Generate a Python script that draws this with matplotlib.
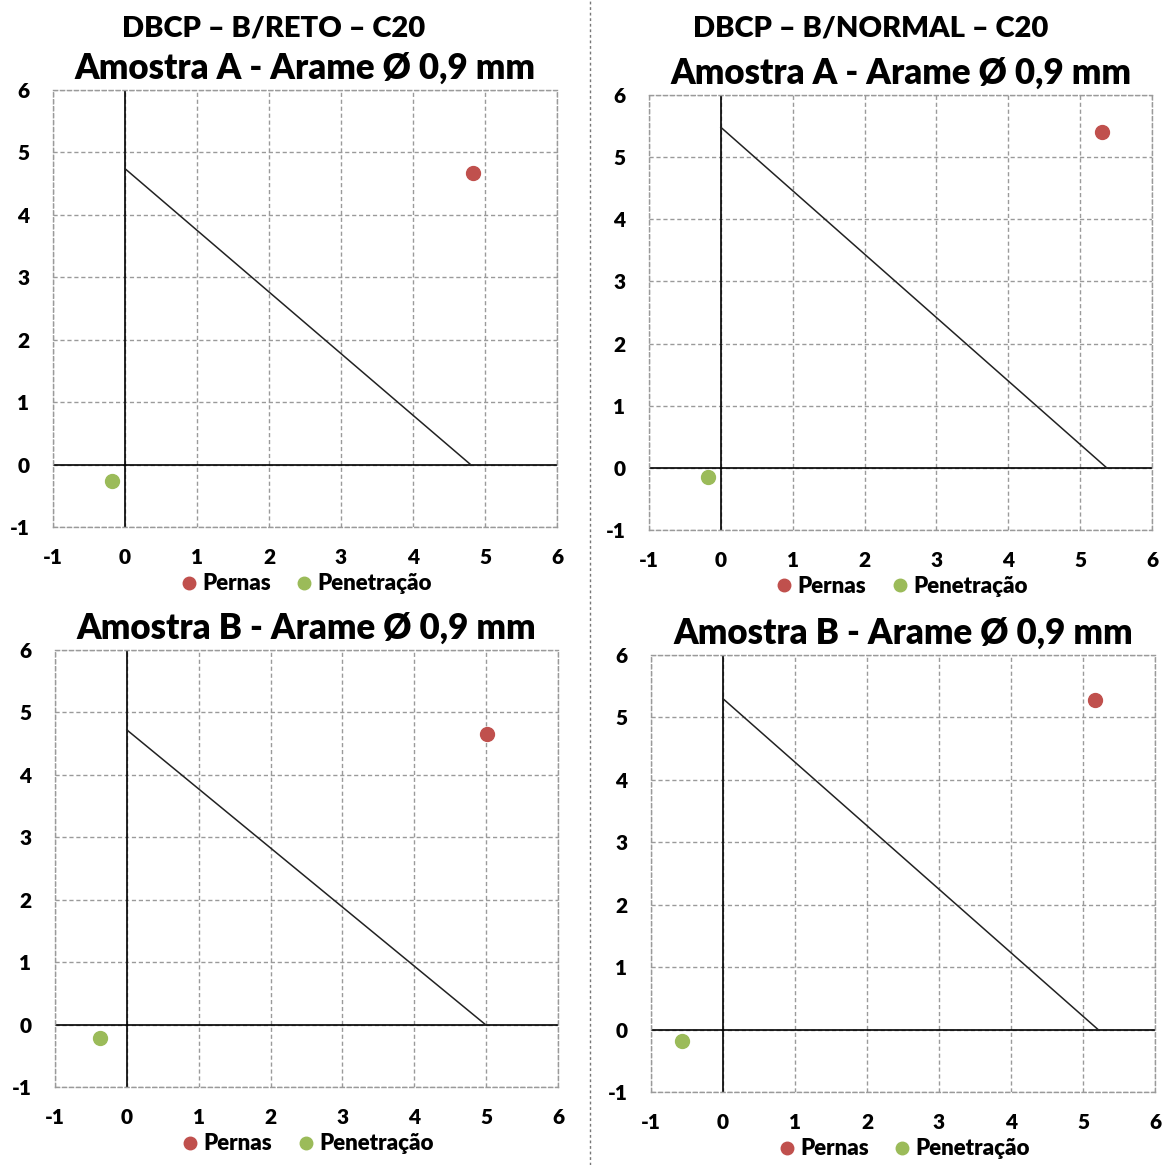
import matplotlib
matplotlib.use("Agg")
import matplotlib.pyplot as plt
from matplotlib.lines import Line2D

plt.rcParams["font.family"] = ["Lato", "DejaVu Sans"]
plt.rcParams["font.weight"] = "bold"
plt.rcParams["axes.unicode_minus"] = False

headings = ["DBCP – B/RETO – C20", "DBCP – B/NORMAL – C20"]
panel_titles = [
    "Amostra A - Arame Ø 0,9 mm",
    "Amostra A - Arame Ø 0,9 mm",
    "Amostra B - Arame Ø 0,9 mm",
    "Amostra B - Arame Ø 0,9 mm",
]
# order: top-left, top-right, bottom-left, bottom-right
pernas_x = [4.83, 5.30, 5.01, 5.17]
pernas_y = [4.67, 5.40, 4.66, 5.28]
penetracao_x = [-0.18, -0.18, -0.38, -0.57]
penetracao_y = [-0.26, -0.15, -0.21, -0.18]
line_y_start = [4.74, 5.48, 4.72, 5.30]
line_x_end = [4.80, 5.37, 4.99, 5.21]
ticks = [-1, 0, 1, 2, 3, 4, 5, 6]

RED = "#C0504D"
GREEN = "#9BBB59"
GRID = "#9a9a9a"

W, H = 1172, 1165
fig = plt.figure(figsize=(W / 100, H / 100), dpi=100)

# axes boxes in pixels: left, top, right, bottom
boxes = [
    (53, 90, 557, 527),
    (649, 95, 1152, 530),
    (55, 650, 558, 1087),
    (651, 655, 1155, 1092),
]

for i, (l, t, r, b) in enumerate(boxes):
    ax = fig.add_axes([l / W, 1 - b / H, (r - l) / W, (b - t) / H])
    ax.set_xlim(-1, 6)
    ax.set_ylim(-1, 6)
    ax.set_xticks(ticks, [str(v) for v in ticks], fontweight="heavy", fontsize=15)
    ax.set_yticks(ticks, [str(v) for v in ticks], fontweight="heavy", fontsize=15)
    ax.tick_params(axis="x", length=0, pad=15)
    ax.tick_params(axis="y", length=0, pad=17)
    ax.grid(True, color=GRID, linestyle=(0, (3, 2)), linewidth=1)
    for sp in ax.spines.values():
        sp.set_color(GRID)
        sp.set_linestyle((0, (3, 2)))
        sp.set_linewidth(1)
    ax.axhline(0, color="black", linewidth=1.2, zorder=2)
    ax.axvline(0, color="black", linewidth=1.2, zorder=2)

    ax.plot([0, line_x_end[i]], [line_y_start[i], 0], color="#222222", linewidth=1.1, zorder=3)
    ax.scatter([pernas_x[i]], [pernas_y[i]], s=100, color=RED, zorder=4)
    ax.scatter([penetracao_x[i]], [penetracao_y[i]], s=100, color=GREEN, zorder=4)

    ax.text(0.5, 1.05, panel_titles[i], transform=ax.transAxes, ha="center",
            va="center", fontsize=25, fontweight="heavy")

    handles = [
        Line2D([], [], marker="o", linestyle="", color=RED, markersize=9),
        Line2D([], [], marker="o", linestyle="", color=GREEN, markersize=9),
    ]
    ax.legend(handles, ["Pernas", "Penetração"], loc="center",
              bbox_to_anchor=(0.5, -0.13), ncol=2, frameon=False,
              handletextpad=0.1, columnspacing=1.0, handlelength=1.0,
              prop={"size": 16, "weight": "heavy"})

fig.text(274 / W, 1 - 28 / H, headings[0], ha="center", va="center",
         fontsize=21, fontweight="heavy")
fig.text(871 / W, 1 - 28 / H, headings[1], ha="center", va="center",
         fontsize=21, fontweight="heavy")

# dotted separator between the two columns
fig.add_artist(Line2D([590 / W, 590 / W], [0, 1], transform=fig.transFigure,
                      color="#777777", linestyle=(0, (2, 2)), linewidth=1))

fig.savefig("out.png", dpi=100, facecolor="white")
